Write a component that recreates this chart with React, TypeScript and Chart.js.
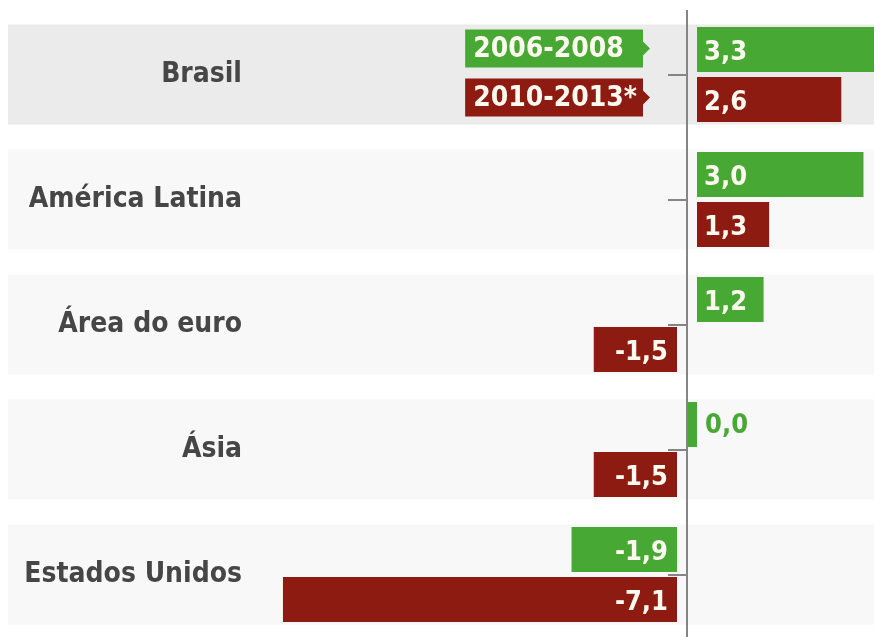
import React, { useEffect, useRef } from 'react';
import { Chart, registerables } from 'chart.js';

Chart.register(...registerables);

const categories = ['Brasil', 'América Latina', 'Área do euro', 'Ásia', 'Estados Unidos'];
const seriesLabels = ['2006-2008', '2010-2013*'];
const values20062008 = [3.3, 3.0, 1.2, 0.0, -1.9];
const values20102013 = [2.6, 1.3, -1.5, -1.5, -7.1];
const seriesColors = ['#48a834', '#8e1b11'];

const FONT = "'DejaVu Sans Condensed', 'Liberation Sans Narrow', 'DejaVu Sans', sans-serif";
const GAP = 10;
const PX_PER_UNIT = 55.5;
const Y_AXIS_WIDTH = 250;
const ZERO_X = 687;
const W = 874;
const H = 637;

const fmt = (v: number) => v.toFixed(1).replace('.', ',');

const bandsPlugin = {
  id: 'bands',
  beforeDraw(chart: any) {
    const { ctx } = chart;
    const y = chart.scales.y;
    const pitch = Math.abs(y.getPixelForValue(1) - y.getPixelForValue(0));
    const h = pitch * 0.8;
    ctx.save();
    categories.forEach((_, i) => {
      const cy = y.getPixelForValue(i);
      ctx.fillStyle = i === 0 ? '#ebebeb' : '#f8f8f8';
      ctx.fillRect(8, cy - h / 2, chart.width - 8, h);
    });
    ctx.restore();
  },
};

const shiftPlugin = {
  id: 'shiftBars',
  afterDatasetsUpdate(chart: any) {
    const x = chart.scales.x;
    const zero = x.getPixelForValue(0);
    chart.data.datasets.forEach((ds: any, di: number) => {
      const meta = chart.getDatasetMeta(di);
      meta.data.forEach((el: any, i: number) => {
        const v = ds.data[i];
        if (v > 0) {
          el.x += GAP;
          el.base += GAP;
        } else if (v < 0) {
          el.x -= GAP;
          el.base -= GAP;
        } else {
          el.base = zero;
          el.x = zero + GAP;
        }
      });
    });
  },
};

const overlayPlugin = {
  id: 'overlay',
  afterDatasetsDraw(chart: any) {
    const { ctx, chartArea } = chart;
    const x = chart.scales.x;
    const y = chart.scales.y;
    const zero = x.getPixelForValue(0);

    ctx.save();
    ctx.strokeStyle = '#858585';
    ctx.lineWidth = 2;
    ctx.beginPath();
    ctx.moveTo(zero, chartArea.top - 2);
    ctx.lineTo(zero, chart.height);
    ctx.stroke();
    categories.forEach((_, i) => {
      const cy = Math.round(y.getPixelForValue(i));
      ctx.beginPath();
      ctx.moveTo(zero - 19, cy);
      ctx.lineTo(zero, cy);
      ctx.stroke();
    });

    ctx.font = `bold 27px ${FONT}`;
    ctx.textBaseline = 'middle';
    chart.data.datasets.forEach((ds: any, di: number) => {
      const meta = chart.getDatasetMeta(di);
      meta.data.forEach((el: any, i: number) => {
        const v = ds.data[i];
        const t = fmt(v);
        const ty = el.y + 3;
        if (v > 0) {
          ctx.fillStyle = '#fffaf0';
          ctx.textAlign = 'left';
          ctx.fillText(t, el.base + 7, ty);
        } else if (v < 0) {
          ctx.fillStyle = '#fffaf0';
          ctx.textAlign = 'right';
          ctx.fillText(t, el.base - 9, ty);
        } else {
          ctx.fillStyle = ds.backgroundColor;
          ctx.textAlign = 'left';
          ctx.fillText(t, el.x + 8, ty - 2);
        }
      });
    });

    ctx.font = `bold 28px ${FONT}`;
    const widths = chart.data.datasets.map((ds: any) => ctx.measureText(ds.label).width);
    const tagW = Math.max(...widths) + 14;
    const right = zero - 44;
    const left = right - tagW;
    chart.data.datasets.forEach((ds: any, di: number) => {
      const el = chart.getDatasetMeta(di).data[0];
      const cy = el.y - (di === 0 ? 1 : 2);
      const th = 38;
      ctx.fillStyle = ds.backgroundColor;
      ctx.fillRect(left, cy - th / 2, tagW, th);
      ctx.beginPath();
      ctx.moveTo(right, cy - 7);
      ctx.lineTo(right + 7, cy);
      ctx.lineTo(right, cy + 7);
      ctx.closePath();
      ctx.fill();
      ctx.fillStyle = '#fffaf0';
      ctx.textAlign = 'left';
      ctx.textBaseline = 'middle';
      ctx.fillText(ds.label, left + 8, cy + 1);
    });
    ctx.restore();
  },
};

export default function App() {
  const ref = useRef<HTMLCanvasElement | null>(null);

  useEffect(() => {
    document.body.style.margin = '0';
    const canvas = ref.current;
    if (!canvas) return;
    const xMin = -(ZERO_X - Y_AXIS_WIDTH) / PX_PER_UNIT;
    const xMax = (W - ZERO_X) / PX_PER_UNIT;
    const chart = new Chart(canvas, {
      type: 'bar',
      data: {
        labels: categories,
        datasets: [
          { label: seriesLabels[0], data: values20062008, backgroundColor: seriesColors[0], barPercentage: 0.9, categoryPercentage: 0.8 },
          { label: seriesLabels[1], data: values20102013, backgroundColor: seriesColors[1], barPercentage: 0.9, categoryPercentage: 0.8 },
        ],
      },
      options: {
        indexAxis: 'y',
        responsive: false,
        animation: false,
        devicePixelRatio: 1,
        layout: { padding: { top: 12, bottom: 0, left: 0, right: 0 } },
        plugins: {
          legend: { display: false },
          tooltip: { enabled: false },
          title: { display: false },
        },
        scales: {
          x: {
            type: 'linear',
            min: xMin,
            max: xMax,
            display: false,
          },
          y: {
            position: 'left',
            grid: { display: false, drawTicks: false },
            border: { display: false },
            ticks: {
              color: '#464646',
              padding: 8,
              crossAlign: 'near',
              font: { family: FONT, weight: 'bold', size: 28 },
            },
            afterFit: (s: any) => {
              s.width = Y_AXIS_WIDTH;
              s.paddingTop = 0;
              s.paddingBottom = 0;
            },
          },
        },
      } as any,
      plugins: [bandsPlugin, shiftPlugin, overlayPlugin],
    });
    return () => chart.destroy();
  }, []);

  return (
    <div style={{ width: W, height: H }}>
      <canvas ref={ref} width={W} height={H} style={{ display: 'block' }} />
    </div>
  );
}
